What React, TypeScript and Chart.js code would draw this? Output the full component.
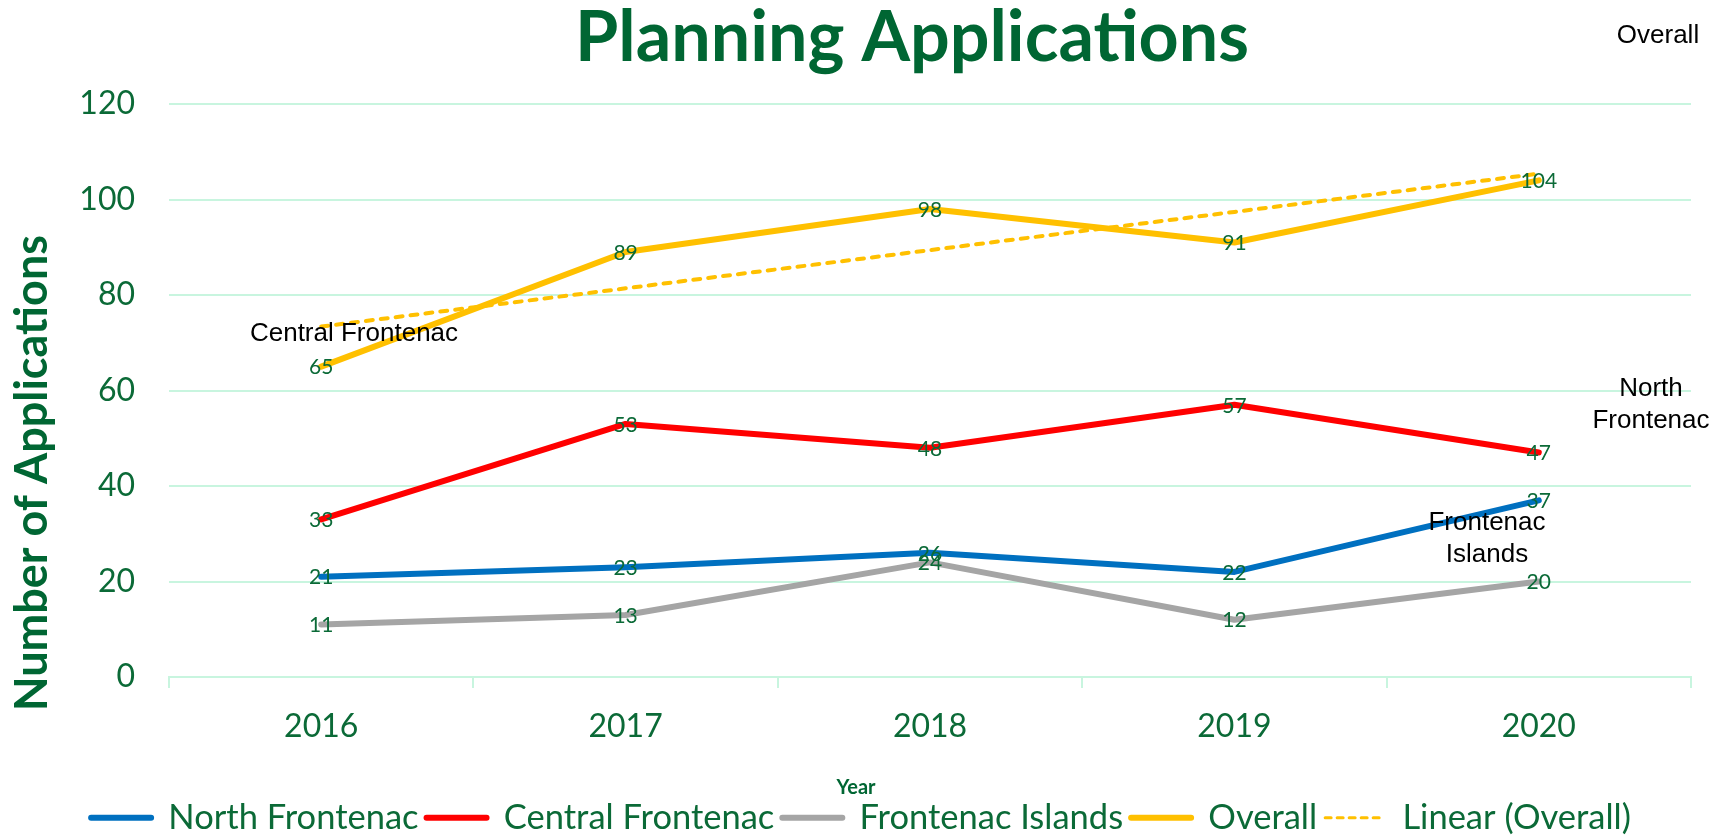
import React, { useEffect, useRef } from 'react';
import { Chart, registerables } from 'chart.js';

Chart.register(...registerables);

// ---- Data ----
const years = ['2016', '2017', '2018', '2019', '2020'];
const northFrontenac = [21, 23, 26, 22, 37];
const centralFrontenac = [33, 53, 48, 57, 47];
const frontenacIslands = [11, 13, 24, 12, 20];
const overall = [65, 89, 98, 91, 104];
const linearOverall = [73.4, 81.4, 89.4, 97.4, 105.4];
const yTicks = [0, 20, 40, 60, 80, 100, 120];

const chartTitle = 'Planning Applications';
const yTitle = 'Number of Applications';
const xTitle = 'Year';

// ---- Styles ----
const GREEN = '#006633';
const TEXT_GREEN = '#0B6A37';
const GRID = '#C8F5DF';
const FONT = 'Lato, "Open Sans", sans-serif';
const ARIAL = '"Liberation Sans", Arial, sans-serif';

const annotationPlugin = {
  id: 'customText',
  afterDatasetsDraw(chart: any) {
    const ctx = chart.ctx;
    ctx.save();
    ctx.font = `21px ${FONT}`;
    ctx.fillStyle = TEXT_GREEN;
    ctx.textAlign = 'center';
    ctx.textBaseline = 'middle';
    chart.data.datasets.forEach((ds: any, i: number) => {
      if (!ds.showLabels) return;
      const meta = chart.getDatasetMeta(i);
      meta.data.forEach((pt: any, j: number) => {
        ctx.fillText(String(ds.data[j]), pt.x, pt.y + 1);
      });
    });
    ctx.restore();
  },
  afterDraw(chart: any) {
    const ctx = chart.ctx;
    ctx.save();
    // Title
    ctx.fillStyle = GREEN;
    ctx.textAlign = 'center';
    ctx.textBaseline = 'alphabetic';
    ctx.font = `bold 70px ${FONT}`;
    ctx.fillText(chartTitle, 912, 61);
    // X title
    ctx.font = `bold 20px ${FONT}`;
    ctx.fillText(xTitle, 856, 794);
    // Y title
    ctx.save();
    ctx.translate(47, 473);
    ctx.rotate(-Math.PI / 2);
    ctx.font = `bold 45px ${FONT}`;
    ctx.fillText(yTitle, 0, 0);
    ctx.restore();
    // Series name annotations
    ctx.fillStyle = '#000000';
    ctx.font = `26px ${ARIAL}`;
    ctx.fillText('Overall', 1658, 43);
    ctx.fillText('Central Frontenac', 354, 341);
    ctx.fillText('North', 1651, 396);
    ctx.fillText('Frontenac', 1651, 428);
    ctx.fillText('Frontenac', 1487, 530);
    ctx.fillText('Islands', 1487, 562);
    ctx.restore();
  },
};

function lineDataset(label: string, data: number[], color: string) {
  return {
    label,
    data,
    borderColor: color,
    backgroundColor: color,
    borderWidth: 6,
    borderCapStyle: 'round',
    borderJoinStyle: 'round',
    pointRadius: 0,
    pointHoverRadius: 0,
    tension: 0,
    fill: false,
    showLabels: true,
    legendLineWidth: 6,
    legendDash: [],
  };
}

export default function App() {
  const canvasRef = useRef<HTMLCanvasElement | null>(null);

  useEffect(() => {
    if (!canvasRef.current) return;
    const tickFont = { family: FONT, size: 32 };
    const datasets: any[] = [
      { ...lineDataset('North Frontenac', northFrontenac, '#0070C0'), order: 4 },
      { ...lineDataset('Central Frontenac', centralFrontenac, '#FF0000'), order: 3 },
      { ...lineDataset('Frontenac Islands', frontenacIslands, '#A5A5A5'), order: 2 },
      { ...lineDataset('Overall', overall, '#FFC000'), order: 1 },
      {
        label: 'Linear (Overall)',
        data: linearOverall,
        borderColor: '#FFC000',
        backgroundColor: '#FFC000',
        borderWidth: 4,
        borderDash: [7, 8],
        borderCapStyle: 'round',
        pointRadius: 0,
        pointHoverRadius: 0,
        tension: 0,
        fill: false,
        showLabels: false,
        legendLineWidth: 3,
        legendDash: [6, 6],
        order: 0,
      },
    ];

    const chart = new Chart(canvasRef.current, {
      type: 'line',
      data: { labels: years, datasets },
      options: {
        responsive: false,
        animation: false,
        devicePixelRatio: 1,
        layout: { padding: { top: 104, right: 41, bottom: -10, left: 31 } },
        scales: {
          x: {
            type: 'category',
            offset: true,
            grid: {
              offset: true,
              drawOnChartArea: false,
              drawTicks: true,
              tickLength: 11,
              color: GRID,
              lineWidth: 2,
            },
            border: { display: true, color: GRID, width: 2 },
            ticks: {
              font: tickFont,
              color: TEXT_GREEN,
              padding: 19,
              maxRotation: 0,
              autoSkip: false,
            },
            afterFit: (s: any) => {
              s.height = 115.5;
            },
          },
          y: {
            min: 0,
            max: 120,
            grid: { color: GRID, lineWidth: 2, drawTicks: false },
            border: { display: false },
            ticks: { stepSize: 20, font: tickFont, color: TEXT_GREEN, padding: 34 },
            afterBuildTicks: (s: any) => {
              s.ticks = yTicks.map((v) => ({ value: v }));
            },
            afterFit: (s: any) => {
              s.width = 138;
            },
          },
        },
        plugins: {
          title: { display: false },
          tooltip: { enabled: false },
          legend: {
            position: 'bottom',
            labels: {
              usePointStyle: true,
              pointStyle: 'line',
              pointStyleWidth: 60,
              font: { family: FONT, size: 34.5 },
              color: TEXT_GREEN,
              padding: 8,
              sort: (a: any, b: any) => a.datasetIndex - b.datasetIndex,
              generateLabels: (c: any) => {
                const items = (Chart.defaults.plugins.legend.labels as any).generateLabels(c);
                return items.map((it: any) => {
                  const ds = c.data.datasets[it.datasetIndex];
                  return {
                    ...it,
                    pointStyle: 'line',
                    strokeStyle: ds.borderColor,
                    fillStyle: ds.borderColor,
                    lineWidth: ds.legendLineWidth,
                    lineDash: ds.legendDash,
                    lineCap: 'round',
                  };
                });
              },
            },
          },
        },
      } as any,
      plugins: [annotationPlugin],
    });
    return () => chart.destroy();
  }, []);

  return (
    <canvas
      ref={canvasRef}
      width={1732}
      height={835}
      style={{ position: 'fixed', left: 0, top: 0, background: '#ffffff' }}
    />
  );
}
